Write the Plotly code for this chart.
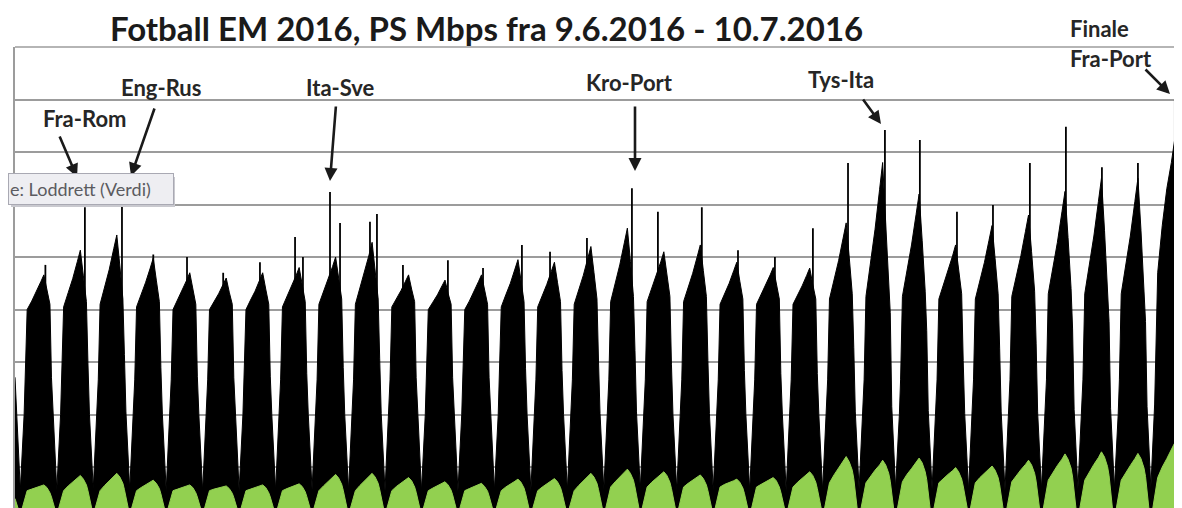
import plotly.graph_objects as go
import pandas as pd

# ---------------- data ----------------
START = pd.Timestamp("2016-06-09 00:00")
END = pd.Timestamp("2016-07-11 00:00")
DAYS = [START + pd.Timedelta(days=d) for d in range(32)]   # 9.6 ... 10.7

# black series (PS Mbps), hour-of-day sampling points and one row per day
BLACK_HOURS = [0, 1, 3.5, 6, 6.8, 8, 11, 14, 17, 19, 21, 23]
BLACK = [
    [271, 200, 56, 200, 266, 400, 416, 433, 453, 466, 436, 410],
    [270, 200, 56, 200, 266, 405, 432, 459, 491, 513, 464, 415],
    [298, 200, 58, 200, 266, 410, 443, 476, 516, 542, 483, 420],
    [314, 205, 57, 200, 266, 405, 428, 452, 479, 498, 456, 415],
    [289, 200, 55, 200, 266, 400, 418, 435, 456, 470, 439, 410],
    [273, 200, 54, 200, 266, 400, 415, 430, 448, 460, 433, 410],
    [270, 200, 55, 200, 266, 400, 418, 435, 456, 470, 439, 410],
    [273, 200, 56, 200, 266, 405, 424, 443, 465, 480, 446, 415],
    [278, 200, 57, 200, 266, 410, 433, 455, 482, 500, 460, 420],
    [290, 200, 56, 200, 266, 410, 440, 469, 504, 528, 475, 420],
    [306, 202, 55, 200, 266, 405, 420, 436, 454, 466, 439, 415],
    [270, 200, 55, 200, 266, 400, 414, 428, 445, 456, 431, 410],
    [270, 200, 54, 200, 266, 400, 416, 433, 453, 466, 436, 410],
    [270, 200, 56, 200, 266, 405, 428, 450, 477, 495, 455, 415],
    [287, 200, 55, 200, 266, 405, 426, 448, 473, 490, 452, 415],
    [284, 200, 56, 200, 266, 410, 438, 465, 498, 520, 471, 420],
    [302, 202, 57, 200, 266, 415, 450, 485, 527, 555, 492, 425],
    [322, 205, 58, 200, 266, 415, 439, 463, 491, 510, 467, 425],
    [296, 200, 56, 200, 266, 415, 442, 469, 501, 523, 474, 425],
    [303, 202, 56, 200, 266, 410, 430, 450, 474, 490, 454, 420],
    [284, 200, 55, 200, 266, 410, 428, 445, 466, 480, 449, 420],
    [278, 200, 55, 200, 266, 410, 427, 445, 465, 479, 448, 420],
    [278, 200, 56, 200, 266, 420, 456, 493, 536, 565, 500, 430],
    [328, 205, 58, 200, 266, 425, 489, 553, 629, 680, 565, 440],
    [394, 215, 60, 200, 266, 425, 474, 523, 581, 620, 532, 435],
    [360, 208, 58, 200, 266, 420, 446, 472, 502, 523, 477, 430],
    [303, 202, 56, 200, 266, 420, 455, 490, 532, 560, 497, 430],
    [325, 205, 56, 200, 266, 425, 464, 503, 549, 580, 510, 435],
    [336, 205, 58, 200, 266, 430, 479, 528, 586, 625, 537, 440],
    [363, 210, 58, 200, 266, 430, 485, 540, 606, 650, 551, 440],
    [377, 212, 60, 200, 266, 430, 485, 540, 606, 650, 551, 440],
    [377, 215, 60, 220, 300, 470, 560, 630, 680, 720, 700, 680],
]
BLACK_END = 660

# short traffic spikes (hour of day, value) - main spike per day
SPIKE_HOURS = [20, 22.0, 22.4, 19, 17.2, 17, 17.2, 16.3, 15.3, 22.2, 15.3, 20.9,
               20, 21.6, 16.1, 16.4, 22, 15.1, 20, 19.8, 20.1, 21.1, 20.2, 20.5,
               19.5, 19.9, 19.6, 19.9, 19.6, 19.3, 19, 19.3]
SPIKE_VALUES = [485, 595, 599, 505, 500, 470, 490, 538, 624, 582, 485, 494,
                479, 523, 510, 536, 631, 586, 595, 513, 500, 555, 679, 742,
                723, 586, 599, 679, 748, 671, 679, 799]
# secondary spikes
SPIKE2_DAYS = [7, 8, 9]
SPIKE2_HOURS = [21.5, 21.9, 17.6]
SPIKE2_VALUES = [500, 565, 567]

# green series
GREEN_HOURS = [0, 2.2, 3.5, 4.8, 8, 11, 14, 17, 19, 21, 23]
GREEN = [
    [40, 22, 8, 22, 55, 58, 61, 64, 66, 61, 51],
    [43, 22, 8, 22, 55, 64, 71, 78, 84, 77, 66],
    [55, 22, 8, 22, 55, 65, 73, 81, 88, 81, 69],
    [57, 22, 8, 22, 55, 61, 66, 71, 75, 69, 59],
    [49, 22, 8, 22, 55, 58, 61, 64, 66, 61, 51],
    [43, 22, 8, 22, 55, 58, 60, 62, 64, 59, 50],
    [42, 22, 8, 22, 55, 58, 61, 64, 66, 61, 51],
    [43, 22, 8, 22, 55, 59, 62, 65, 68, 63, 53],
    [44, 22, 8, 22, 55, 64, 72, 80, 86, 79, 67],
    [56, 22, 8, 22, 55, 65, 73, 81, 88, 81, 69],
    [57, 22, 8, 22, 55, 63, 69, 75, 80, 74, 62],
    [52, 22, 8, 22, 55, 60, 64, 69, 72, 66, 56],
    [47, 22, 8, 22, 55, 59, 63, 66, 69, 63, 54],
    [45, 22, 8, 22, 55, 62, 67, 73, 77, 71, 60],
    [50, 22, 8, 22, 55, 62, 68, 73, 78, 72, 61],
    [51, 22, 8, 22, 55, 65, 73, 81, 88, 81, 69],
    [57, 22, 8, 22, 62, 72, 81, 89, 96, 88, 75],
    [62, 22, 8, 22, 62, 71, 78, 85, 91, 84, 71],
    [59, 22, 8, 22, 62, 69, 75, 80, 85, 78, 66],
    [55, 22, 8, 22, 62, 67, 70, 74, 77, 71, 60],
    [50, 22, 8, 22, 62, 67, 72, 76, 80, 74, 62],
    [52, 22, 8, 22, 62, 71, 78, 85, 91, 84, 71],
    [59, 22, 8, 22, 70, 85, 98, 110, 120, 110, 94],
    [78, 22, 8, 22, 70, 83, 94, 104, 113, 104, 88],
    [73, 22, 8, 22, 72, 86, 97, 108, 117, 108, 91],
    [76, 22, 8, 22, 70, 79, 86, 93, 99, 91, 77],
    [64, 22, 8, 22, 70, 80, 88, 96, 102, 94, 80],
    [66, 22, 8, 22, 72, 84, 95, 105, 113, 104, 88],
    [73, 22, 8, 22, 75, 90, 103, 115, 125, 115, 98],
    [81, 22, 8, 22, 75, 91, 105, 118, 129, 119, 101],
    [84, 22, 8, 22, 75, 90, 103, 116, 126, 116, 98],
    [82, 22, 8, 22, 80, 100, 116, 132, 145, 140, 138],
]
GREEN_END = 135

TITLE = "Fotball EM 2016, PS Mbps fra 9.6.2016 - 10.7.2016"
MATCH_LABELS = ["Fra-Rom", "Eng-Rus", "Ita-Sve", "Kro-Port", "Tys-Ita"]
FINAL_LABELS = ["Finale", "Fra-Port"]
TOOLTIP = "e: Loddrett (Verdi)"

# ---------------- build series ----------------
def series(hours, rows, end_value):
    xs, ys = [], []
    for d, row in enumerate(rows):
        for h, v in zip(hours, row):
            xs.append(DAYS[d] + pd.Timedelta(hours=h))
            ys.append(v)
    xs.append(END)
    ys.append(end_value)
    return xs, ys

bx, by = series(BLACK_HOURS, BLACK, BLACK_END)
gx, gy = series(GREEN_HOURS, GREEN, GREEN_END)

sx, sy = [], []
for d, (h, v) in enumerate(zip(SPIKE_HOURS, SPIKE_VALUES)):
    t = DAYS[d] + pd.Timedelta(hours=h)
    sx += [t, t, None]
    sy += [0, v, None]
for d, h, v in zip(SPIKE2_DAYS, SPIKE2_HOURS, SPIKE2_VALUES):
    t = DAYS[d] + pd.Timedelta(hours=h)
    sx += [t, t, None]
    sy += [0, v, None]

fig = go.Figure()
fig.add_trace(go.Scatter(x=bx, y=by, mode="lines", line=dict(color="#000000", width=1),
                         fill="tozeroy", fillcolor="#000000", hoverinfo="skip"))
fig.add_trace(go.Scatter(x=sx, y=sy, mode="lines", line=dict(color="#000000", width=1.8),
                         hoverinfo="skip"))
fig.add_trace(go.Scatter(x=gx, y=gy, mode="lines", line=dict(color="#92D050", width=1),
                         fill="tozeroy", fillcolor="#92D050", hoverinfo="skip"))

# page body has an 8px margin, so the figure is laid out 8px to the right / down
OFF = 8
W, H = 1182, 508
PLOT_L, PLOT_T, PLOT_R, PLOT_B = 15, 47, 1182, 508      # plot area in window pixels
PW, PH = PLOT_R - PLOT_L, PLOT_B - PLOT_T

def px(x):
    return (x - PLOT_L) / PW

def py(y):
    return (PLOT_B - y) / PH

ann = []
ann.append(dict(text="<b>" + TITLE + "</b>", x=px(486), y=py(28), xref="paper", yref="paper",
                xanchor="center", yanchor="middle", showarrow=False,
                font=dict(family="Lato", size=33, color="#1a1a1a")))

label_pos = [(84, 118), (161, 87), (340, 87), (629, 83), (841, 80)]
for txt, (lx, ly) in zip(MATCH_LABELS, label_pos):
    ann.append(dict(text="<b>" + txt + "</b>", x=px(lx), y=py(ly), xref="paper", yref="paper",
                    xanchor="center", yanchor="middle", showarrow=False,
                    font=dict(family="Lato", size=22, color="#262626")))
for txt, ly in zip(FINAL_LABELS, [28, 58]):
    ann.append(dict(text="<b>" + txt + "</b>", x=px(1068), y=py(ly), xref="paper", yref="paper",
                    xanchor="left", yanchor="middle", showarrow=False,
                    font=dict(family="Lato", size=22, color="#262626")))

arrows = [((59, 135), (77, 177)), ((155, 107), (131, 176)), ((336, 105), (330, 181)),
          ((635, 105), (635, 171)), ((862, 98), (881, 124)), ((1144, 68), (1170, 94))]
for (tx, ty), (hx, hy) in arrows:
    ann.append(dict(text="", x=px(hx), y=py(hy), xref="paper", yref="paper",
                    ax=tx - hx, ay=ty - hy, axref="pixel", ayref="pixel",
                    showarrow=True, arrowhead=2, arrowsize=1, arrowwidth=2.6,
                    arrowcolor="#1a1a1a", standoff=0))

# tooltip box (shadow + box)
ann.append(dict(text="", x=px(11), y=py(192), xref="paper", yref="paper",
                xanchor="left", yanchor="middle", showarrow=False, width=162, height=28,
                bgcolor="#c9c9cf", borderwidth=0))
ann.append(dict(text=TOOLTIP, x=px(8), y=py(189.5), xref="paper", yref="paper",
                xanchor="left", yanchor="middle", showarrow=False, width=162, height=28,
                align="left", bgcolor="#eeeef2", bordercolor="#a9a9b3", borderwidth=1,
                borderpad=1, font=dict(family="Lato", size=18, color="#5b5b60")))

GRID = "#9c9c9c"
fig.update_layout(
    width=W, height=H,
    margin=dict(l=PLOT_L - OFF, r=W - PLOT_R + OFF, t=PLOT_T - OFF, b=H - PLOT_B + OFF,
                autoexpand=False),
    paper_bgcolor="white", plot_bgcolor="white",
    showlegend=False,
    annotations=ann,
    shapes=[dict(type="line", xref="paper", yref="paper", x0=0, x1=1, y0=1, y1=1,
                 line=dict(color=GRID, width=1.6))],
    xaxis=dict(type="date", range=[START, END], showticklabels=False, showgrid=False,
               zeroline=False, showline=False, ticks=""),
    yaxis=dict(range=[22, 900], dtick=100, tick0=0, showticklabels=False, ticks="",
               showgrid=True, gridcolor=GRID, gridwidth=1.6, zeroline=False,
               showline=True, linecolor=GRID, linewidth=1.6),
)

fig.write_html("out.html")
